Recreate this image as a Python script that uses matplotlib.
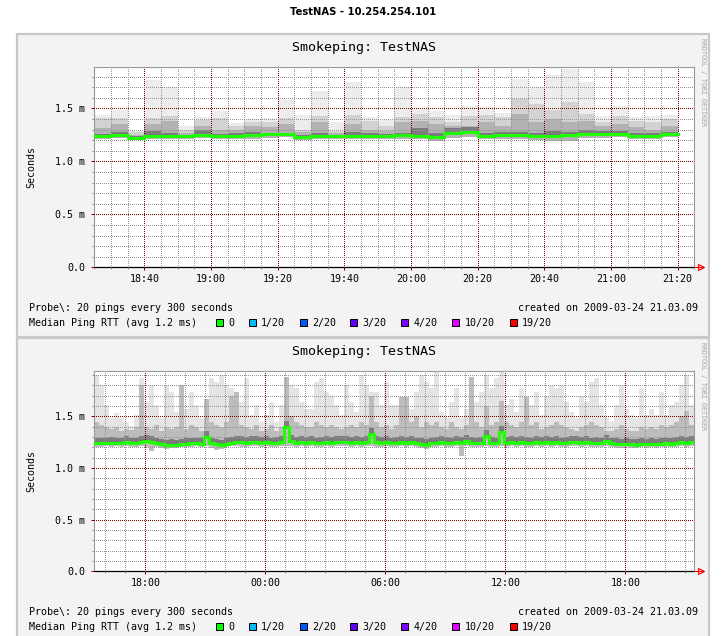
import numpy as np
import matplotlib
matplotlib.use('Agg')
import matplotlib.pyplot as plt
from matplotlib.patches import Rectangle
from matplotlib.ticker import MultipleLocator, FuncFormatter

# --- data: panel 1 (3 hours, 5 min steps, values in ms) ---
p1_t0 = 18 * 60 + 25
p1_step = 5
p1_med = [1.235, 1.245, 1.22, 1.24, 1.235, 1.235, 1.245, 1.24, 1.235, 1.245,
          1.255, 1.255, 1.23, 1.24, 1.24, 1.24, 1.235, 1.24, 1.245, 1.24,
          1.225, 1.265, 1.275, 1.24, 1.245, 1.245, 1.235, 1.235, 1.245, 1.255,
          1.255, 1.26, 1.24, 1.24, 1.255]
p1_lo = [1.21, 1.22, 1.20, 1.21, 1.21, 1.215, 1.22, 1.21, 1.215, 1.215,
         1.22, 1.225, 1.205, 1.21, 1.215, 1.21, 1.21, 1.215, 1.21, 1.21,
         1.195, 1.22, 1.23, 1.215, 1.215, 1.21, 1.205, 1.19, 1.19, 1.22,
         1.22, 1.225, 1.21, 1.21, 1.225]
p1_q1 = [1.26, 1.28, 1.235, 1.29, 1.27, 1.25, 1.30, 1.26, 1.27, 1.28,
         1.27, 1.27, 1.25, 1.27, 1.25, 1.28, 1.27, 1.26, 1.27, 1.31,
         1.27, 1.31, 1.32, 1.27, 1.28, 1.28, 1.27, 1.29, 1.28, 1.30,
         1.29, 1.29, 1.27, 1.265, 1.28]
p1_q2 = [1.31, 1.35, 1.25, 1.35, 1.38, 1.27, 1.335, 1.30, 1.30, 1.33,
         1.32, 1.35, 1.28, 1.375, 1.27, 1.35, 1.30, 1.29, 1.37, 1.38,
         1.35, 1.33, 1.33, 1.37, 1.335, 1.45, 1.37, 1.40, 1.37, 1.385,
         1.33, 1.35, 1.32, 1.30, 1.335]
p1_q3 = [1.41, 1.405, 1.28, 1.405, 1.43, 1.30, 1.39, 1.405, 1.33, 1.37,
         1.375, 1.405, 1.30, 1.43, 1.29, 1.437, 1.385, 1.335, 1.42, 1.45,
         1.415, 1.375, 1.43, 1.437, 1.415, 1.59, 1.54, 1.48, 1.555, 1.45,
         1.37, 1.43, 1.385, 1.37, 1.40]
p1_top = [1.437, 1.48, 1.29, 1.77, 1.705, 1.33, 1.415, 1.47, 1.36, 1.40,
          1.405, 1.58, 1.437, 1.66, 1.37, 1.745, 1.415, 1.39, 1.705, 1.495,
          1.47, 1.437, 1.525, 1.51, 1.46, 1.78, 1.705, 1.815, 1.87, 1.745,
          1.425, 1.525, 1.415, 1.425, 1.437]

# --- data: panel 2 (30 hours, read at 15 min resolution, values in ms) ---
p2_t0 = 15 * 60 + 27
p2_step = 15
p2_top = [1.90, 1.80, 1.61, 1.48, 1.53, 1.48, 1.45, 1.41, 1.51, 1.87,
          1.64, 1.80, 1.61, 1.48, 1.80, 1.74, 1.54, 1.80, 1.57, 1.74,
          1.61, 1.48, 1.67, 1.87, 1.83, 1.90, 1.80, 1.77, 1.74, 1.64,
          1.87, 1.51, 1.61, 1.45, 1.51, 1.64, 1.45, 1.61, 1.88, 1.80,
          1.77, 1.64, 1.57, 1.57, 1.83, 1.87, 1.74, 1.70, 1.61, 1.51,
          1.80, 1.64, 1.54, 1.90, 1.80, 1.74, 1.74, 1.61, 1.83, 1.61,
          1.61, 1.67, 1.69, 1.57, 1.74, 1.90, 1.83, 1.77, 1.93, 1.54,
          1.48, 1.64, 1.77, 1.48, 1.57, 1.88, 1.64, 1.74, 1.90, 1.77,
          1.87, 1.93, 1.61, 1.67, 1.54, 1.77, 1.70, 1.61, 1.74, 1.51,
          1.70, 1.80, 1.77, 1.80, 1.64, 1.54, 1.48, 1.70, 1.64, 1.83,
          1.87, 1.61, 1.48, 1.45, 1.61, 1.80, 1.57, 1.51, 1.48, 1.77,
          1.51, 1.57, 1.51, 1.74, 1.51, 1.61, 1.64, 1.80, 1.90, 1.61]
p2_mid = [1.45, 1.42, 1.40, 1.38, 1.40, 1.36, 1.38, 1.37, 1.40, 1.80,
          1.40, 1.38, 1.42, 1.36, 1.40, 1.38, 1.40, 1.80, 1.38, 1.42,
          1.40, 1.36, 1.67, 1.45, 1.42, 1.40, 1.45, 1.70, 1.74, 1.42,
          1.40, 1.38, 1.42, 1.36, 1.38, 1.42, 1.36, 1.40, 1.88, 1.50,
          1.45, 1.42, 1.40, 1.40, 1.45, 1.42, 1.40, 1.42, 1.40, 1.38,
          1.40, 1.42, 1.40, 1.45, 1.42, 1.70, 1.45, 1.40, 1.42, 1.38,
          1.42, 1.69, 1.69, 1.45, 1.50, 1.40, 1.45, 1.42, 1.45, 1.40,
          1.38, 1.45, 1.40, 1.38, 1.42, 1.88, 1.45, 1.40, 1.60, 1.42,
          1.45, 1.65, 1.45, 1.42, 1.40, 1.45, 1.69, 1.42, 1.45, 1.38,
          1.40, 1.42, 1.45, 1.42, 1.40, 1.38, 1.36, 1.40, 1.42, 1.45,
          1.42, 1.40, 1.36, 1.36, 1.38, 1.42, 1.38, 1.36, 1.36, 1.40,
          1.38, 1.40, 1.38, 1.42, 1.40, 1.42, 1.45, 1.50, 1.55, 1.42]
p2_med = [1.24, 1.24, 1.24, 1.245, 1.24, 1.24, 1.25, 1.24, 1.24, 1.25,
          1.26, 1.25, 1.24, 1.23, 1.22, 1.225, 1.22, 1.23, 1.235, 1.24,
          1.24, 1.235, 1.30, 1.24, 1.23, 1.22, 1.235, 1.245, 1.25, 1.25,
          1.245, 1.25, 1.25, 1.245, 1.25, 1.24, 1.245, 1.25, 1.40, 1.26,
          1.245, 1.25, 1.245, 1.25, 1.24, 1.245, 1.25, 1.245, 1.25, 1.255,
          1.25, 1.245, 1.25, 1.245, 1.25, 1.33, 1.25, 1.245, 1.255, 1.24,
          1.245, 1.25, 1.245, 1.25, 1.24, 1.235, 1.225, 1.24, 1.245, 1.25,
          1.245, 1.24, 1.25, 1.245, 1.26, 1.245, 1.24, 1.245, 1.31, 1.245,
          1.24, 1.35, 1.245, 1.25, 1.245, 1.25, 1.245, 1.24, 1.25, 1.245,
          1.25, 1.245, 1.25, 1.24, 1.245, 1.25, 1.25, 1.245, 1.25, 1.24,
          1.245, 1.24, 1.26, 1.24, 1.235, 1.23, 1.235, 1.23, 1.225, 1.235,
          1.23, 1.235, 1.23, 1.235, 1.24, 1.235, 1.245, 1.25, 1.245, 1.25]
p2_lo = [1.20, 1.20, 1.21, 1.20, 1.21, 1.20, 1.21, 1.20, 1.20, 1.21,
         1.20, 1.16, 1.20, 1.19, 1.18, 1.19, 1.19, 1.20, 1.20, 1.20,
         1.21, 1.20, 1.21, 1.19, 1.17, 1.18, 1.20, 1.21, 1.21, 1.20,
         1.20, 1.21, 1.21, 1.20, 1.21, 1.20, 1.20, 1.21, 1.21, 1.21,
         1.20, 1.21, 1.20, 1.21, 1.20, 1.20, 1.21, 1.20, 1.21, 1.21,
         1.21, 1.20, 1.21, 1.20, 1.21, 1.21, 1.20, 1.20, 1.21, 1.20,
         1.20, 1.21, 1.20, 1.21, 1.20, 1.19, 1.18, 1.20, 1.20, 1.21,
         1.20, 1.20, 1.21, 1.12, 1.21, 1.20, 1.20, 1.20, 1.21, 1.20,
         1.20, 1.21, 1.20, 1.21, 1.20, 1.21, 1.20, 1.20, 1.21, 1.20,
         1.21, 1.20, 1.21, 1.20, 1.20, 1.21, 1.21, 1.20, 1.21, 1.20,
         1.20, 1.20, 1.21, 1.20, 1.19, 1.19, 1.20, 1.19, 1.19, 1.20,
         1.19, 1.20, 1.19, 1.20, 1.20, 1.20, 1.20, 1.21, 1.20, 1.21]

p1_xlim = (18 * 60 + 25, 21 * 60 + 25)
p1_major = [18 * 60 + 40 + 20 * k for k in range(9)]
p2_xlim = (15 * 60 + 27, 15 * 60 + 27 + 30 * 60)
p2_major = [18 * 60, 24 * 60, 30 * 60, 36 * 60, 42 * 60]
y_ticks = [0.0, 0.5, 1.0, 1.5]
y_labels = ['0.0', '0.5 m', '1.0 m', '1.5 m']

loss_labels = ['0', '1/20', '2/20', '3/20', '4/20', '10/20', '19/20']
loss_colors = ['#00ff00', '#00b8ff', '#0059ff', '#5e00ff', '#7e00ff', '#dd00ff', '#ff0000']

W, H = 727, 636
MONO = 'DejaVu Sans Mono'
FS = 7.2

fig = plt.figure(figsize=(W / 100, H / 100), dpi=100)
fig.patch.set_facecolor('white')


def fx(x):
    return x / W


def fy(y):
    return 1 - y / H


def hhmm(m, pos=None):
    m = int(round(m))
    return '%02d:%02d' % ((m // 60) % 24, m % 60)


fig.text(fx(363), fy(12), 'TestNAS - 10.254.254.101', ha='center', va='center',
         fontsize=7.2, fontweight='bold', family='DejaVu Sans')


def panel(off, height):
    # grey frame of one rrdtool image
    fig.add_artist(Rectangle((fx(17), fy(34 + off + height)), (709 - 17) / W, height / H,
                             transform=fig.transFigure, fc='#f3f3f3', ec='#c8c8c8',
                             lw=1.6, zorder=0))
    ax = fig.add_axes([fx(94.3), fy(267.3 + off), 600 / W, 200 / H])
    ax.set_facecolor('white')

    fig.text(fx(364), fy(48 + off), 'Smokeping: TestNAS', ha='center', va='center',
             fontsize=9.6, family=MONO)
    fig.text(fx(31), fy(167 + off), 'Seconds', rotation=90, ha='center', va='center',
             fontsize=FS, family=MONO)
    fig.text(fx(703), fy(81.5 + off), 'RRDTOOL / TOBI OETIKER', rotation=270,
             ha='center', va='center', fontsize=4.8, family=MONO, color='#a0a0a0')
    fig.text(fx(29), fy(308 + off), 'Probe\\: 20 pings every 300 seconds', ha='left',
             va='center', fontsize=FS, family=MONO)
    fig.text(fx(697.5), fy(308 + off), 'created on 2009-03-24 21.03.09', ha='right',
             va='center', fontsize=FS, family=MONO)
    fig.text(fx(29), fy(323 + off), 'Median Ping RTT (avg 1.2 ms)', ha='left',
             va='center', fontsize=FS, family=MONO)
    box_x = [216, 248.7, 300, 350, 401.3, 452.3, 509.7]
    for bx, lab, col in zip(box_x, loss_labels, loss_colors):
        fig.add_artist(Rectangle((fx(bx), fy(326 + off)), 7 / W, 7 / H,
                                 transform=fig.transFigure, fc=col, ec='black', lw=0.72))
        fig.text(fx(bx + 12.5), fy(323 + off), lab, ha='left', va='center',
                 fontsize=FS, family=MONO)

    ax.set_yticks(y_ticks)
    ax.set_yticklabels(y_labels)
    ax.yaxis.set_minor_locator(MultipleLocator(0.1))
    ax.xaxis.set_major_formatter(FuncFormatter(hhmm))
    ax.set_axisbelow(False)
    ax.grid(which='minor', color='#959595', ls=(0, (1, 2)), lw=0.72, antialiased=False)
    ax.grid(which='major', color='#7a0000', ls=(0, (1, 2)), lw=0.72, antialiased=False)
    ax.tick_params(which='major', length=2, width=0.72, color='#800000', pad=2.5,
                   labelsize=FS)
    ax.tick_params(which='minor', length=1.2, width=0.72, color='#8c8c8c')
    for lab in ax.get_xticklabels() + ax.get_yticklabels():
        lab.set_family(MONO)
    for s in ['top', 'left', 'right']:
        ax.spines[s].set_color('#9a9a9a')
        ax.spines[s].set_linewidth(0.8)
    ax.spines['bottom'].set_color('black')
    ax.spines['bottom'].set_linewidth(0.9)
    ax.tick_params(axis='y', which='major', pad=4.5)
    # red arrow at the end of the time axis
    ax.plot([1.0, 1.015], [0, 0], transform=ax.transAxes, color='red', lw=0.8,
            clip_on=False, zorder=5)
    ax.plot([1.0117], [0], marker='>', ms=4.5, mfc='none', mec='red', mew=0.8,
            transform=ax.transAxes, clip_on=False, zorder=5)
    return ax


def smoke_step(ax, t, width, med):
    xs = np.append(t, t[-1] + width)
    ys = np.append(med, med[-1])
    ax.step(xs, ys, where='post', color='#1eff00', lw=2.2, zorder=4,
            solid_joinstyle='miter')


# panel 1
ax1 = panel(0, 303)
t1 = p1_t0 + p1_step * np.arange(len(p1_med))
lo1 = np.array(p1_lo)
for upper, col in [(p1_top, '#ececec'), (p1_q3, '#d2d2d2'), (p1_q2, '#b2b2b2')]:
    ax1.bar(t1, np.array(upper) - lo1, bottom=lo1, width=p1_step, align='edge',
            color=col, lw=0, zorder=1)
med1 = np.array(p1_med)
ax1.bar(t1, np.array(p1_q1) - (med1 - 0.015), bottom=med1 - 0.015, width=p1_step,
        align='edge', color='#7c7c7c', lw=0, zorder=1)
smoke_step(ax1, t1, p1_step, med1)
ax1.set_xlim(*p1_xlim)
ax1.set_ylim(0, 1.887)
ax1.set_xticks(p1_major)
ax1.xaxis.set_minor_locator(MultipleLocator(5))

# panel 2
ax2 = panel(304, 320)
t2 = p2_t0 + p2_step * np.arange(len(p2_med))
lo2 = np.array(p2_lo)
for upper, col in [(p2_top, '#e4e4e4'), (p2_mid, '#bcbcbc')]:
    ax2.bar(t2, np.array(upper) - lo2, bottom=lo2, width=p2_step, align='edge',
            color=col, lw=0, zorder=1)
med2 = np.array(p2_med)
ax2.bar(t2, 0.065, bottom=med2 - 0.01, width=p2_step, align='edge',
        color='#7c7c7c', lw=0, zorder=1)
smoke_step(ax2, t2, p2_step, med2)
ax2.set_xlim(*p2_xlim)
ax2.set_ylim(0, 1.936)
ax2.set_xticks(p2_major)
ax2.xaxis.set_minor_locator(MultipleLocator(60))

fig.savefig('out.png', dpi=100, facecolor='white')
